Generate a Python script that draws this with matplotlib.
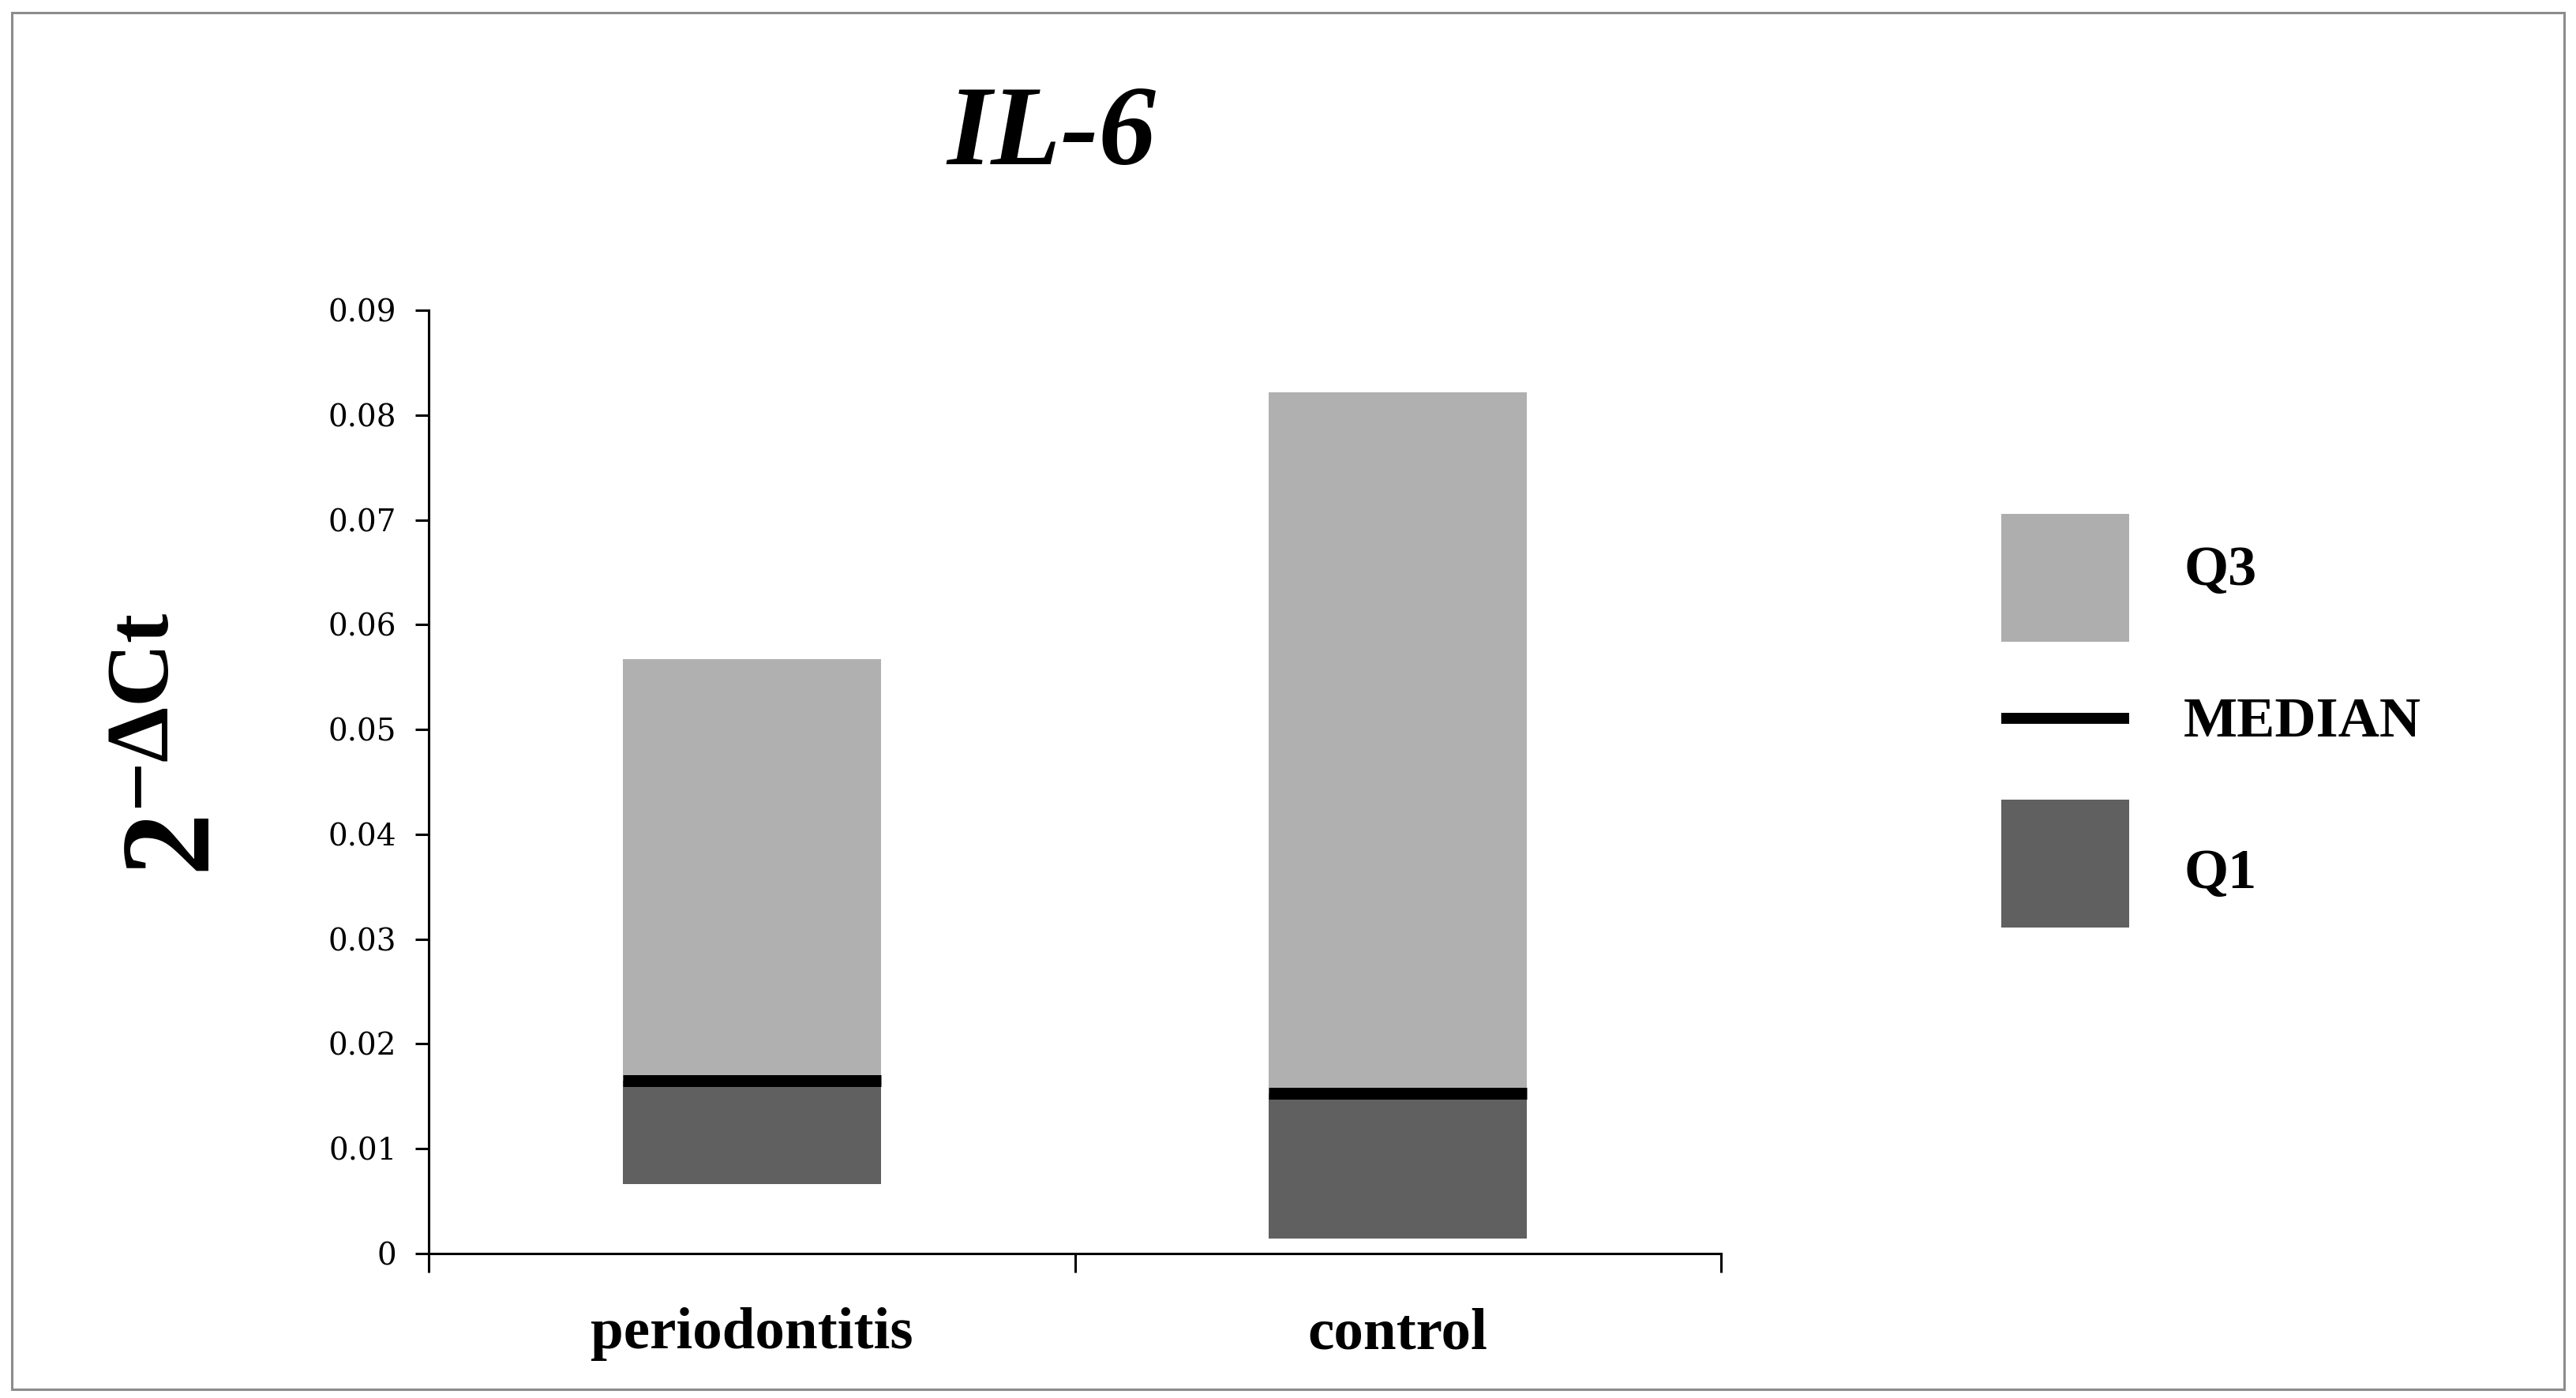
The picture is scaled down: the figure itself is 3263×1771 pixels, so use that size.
import matplotlib
matplotlib.use("Agg")
import matplotlib.pyplot as plt
from matplotlib.patches import Rectangle
from matplotlib.lines import Line2D
import numpy as np

# ---- data ----
categories = ["periodontitis", "control"]
q1_values = [0.0066, 0.0014]
median_values = [0.0165, 0.0153]
q3_values = [0.0567, 0.0822]
y_ticks = [0, 0.01, 0.02, 0.03, 0.04, 0.05, 0.06, 0.07, 0.08, 0.09]
y_tick_labels = ["0", "0.01", "0.02", "0.03", "0.04", "0.05", "0.06", "0.07", "0.08", "0.09"]
legend_labels = ["Q3", "MEDIAN", "Q1"]

light = "#b0b0b0"
dark = "#606060"
W, H = 3263, 1771

plt.rcParams["mathtext.fontset"] = "custom"
plt.rcParams["mathtext.rm"] = "Liberation Serif"
plt.rcParams["mathtext.bf"] = "Liberation Serif:bold"
plt.rcParams["mathtext.it"] = "Liberation Serif:italic"

fig = plt.figure(figsize=(W / 100, H / 100), dpi=100)
fig.patch.set_facecolor("white")

ax = fig.add_axes([543 / W, (H - 1588) / H, 1637 / W, (1588 - 393) / H])

x = np.arange(len(categories)) + 0.5
bw = 0.40
q1 = np.array(q1_values)
med = np.array(median_values)
q3 = np.array(q3_values)

ax.bar(x, med - q1, bottom=q1, width=bw, color=dark, linewidth=0)
ax.bar(x, q3 - med, bottom=med, width=bw, color=light, linewidth=0)
ax.hlines(med, x - bw / 2, x + bw / 2, colors="black", linewidth=10.8, capstyle="butt")

ax.set_xlim(0, 2)
ax.set_ylim(0, 0.09)
ax.set_yticks(y_ticks)
ax.set_yticklabels(y_tick_labels, fontfamily="DejaVu Serif", fontsize=28)
ax.set_xticks([0, 1, 2])
ax.set_xticklabels([])
ax.set_xticks(x, minor=True)
ax.set_xticklabels(categories, minor=True, fontfamily="Liberation Serif",
                   fontweight="bold", fontsize=54)
ax.tick_params(axis="x", which="minor", length=0, pad=49)
ax.tick_params(axis="x", which="major", length=17.3, width=2.2, direction="out", color="black")
ax.tick_params(axis="y", which="major", length=12.2, width=2.2, direction="out", pad=17, color="black")

for s in ["top", "right"]:
    ax.spines[s].set_visible(False)
for s in ["left", "bottom"]:
    ax.spines[s].set_linewidth(2.2)
    ax.spines[s].set_color("black")

# title
fig.text(1332 / W, 1 - 208 / H, "IL-6", ha="center", va="baseline", fontsize=104,
         fontfamily="Liberation Serif", fontweight="bold", fontstyle="italic")

# y label
fig.text(221 / W, 1 - 943 / H, r"$\mathbf{2^{-\Delta Ct}}$", rotation=90,
         ha="center", va="center", fontsize=115)

# legend (manual)
def fx(px):
    return px / W

def fy(py):
    return 1 - py / H

fig.patches.append(Rectangle((fx(2535), fy(813)), (2697 - 2535) / W, (813 - 651) / H,
                             transform=fig.transFigure, facecolor="#aeaeae", edgecolor="none"))
fig.patches.append(Rectangle((fx(2535), fy(1175)), (2697 - 2535) / W, (1175 - 1013) / H,
                             transform=fig.transFigure, facecolor=dark, edgecolor="none"))
fig.lines.append(Line2D([fx(2535), fx(2697)], [fy(910), fy(910)], transform=fig.transFigure,
                        color="black", linewidth=10, solid_capstyle="butt"))
for lab, yb in zip(legend_labels, [741, 933, 1125]):
    fig.text(fx(2766), fy(yb), lab, ha="left", va="baseline", fontsize=52,
             fontfamily="Liberation Serif", fontweight="bold")

# frame
fig.patches.append(Rectangle((fx(15), fy(1760)), (3248 - 15) / W, (1760 - 16) / H,
                             transform=fig.transFigure, facecolor="none",
                             edgecolor="#8c8c8c", linewidth=2.2))

fig.savefig("out.png", dpi=100)
